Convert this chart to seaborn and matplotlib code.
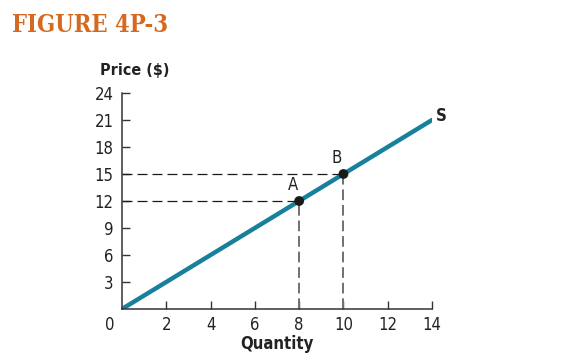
import matplotlib
matplotlib.use("Agg")
from matplotlib import pyplot as plt
import seaborn as sns
import numpy as np
import pandas as pd

# supply curve data
quantity = [0, 14]
price = [0, 21]
point_names = ["A", "B"]
point_q = [8, 10]
point_p = [12, 15]
x_ticks = [2, 4, 6, 8, 10, 12, 14]
y_ticks = [3, 6, 9, 12, 15, 18, 21, 24]

sns.set_style("ticks")
plt.rcParams['font.family'] = ['DejaVu Sans']
plt.rcParams['font.stretch'] = 'condensed'

teal = "#17819C"
fig = plt.figure(figsize=(5.72, 3.6), dpi=100)
ax = fig.add_axes([0.2133, 0.1417, 0.542, 0.6])

df = pd.DataFrame({"Quantity": quantity, "Price": price})
sns.lineplot(data=df, x="Quantity", y="Price", color=teal, linewidth=3.2, ax=ax)

# dashed guides
for q, p in zip(point_q, point_p):
    ax.plot([0, q], [p, p], color="#1a1a1a", linestyle=(0, (8, 4)), linewidth=0.9)
    ax.plot([q, q], [0, p], color="#707070", linestyle=(0, (5.5, 2.5)), linewidth=1.4)

pts = pd.DataFrame({"q": point_q, "p": point_p})
sns.scatterplot(data=pts, x="q", y="p", color="#1a1a1a", s=50, zorder=5, ax=ax, edgecolor="none")
for name, q, p in zip(point_names, point_q, point_p):
    ax.text(q - 0.3, p + 1.8, name, fontsize=12, ha="center", va="center", color="#222222")

ax.text(14.4, 21.4, "S", fontsize=12, fontweight="bold", ha="center", va="center", color="#222222")

ax.set_xlim(0, 14)
ax.set_ylim(0, 24)
ax.set_xticks(x_ticks)
ax.set_yticks(y_ticks)
ax.tick_params(direction="in", length=6, width=1, colors="#333333", labelsize=12, labelcolor="#222222")
ax.tick_params(axis="x", pad=5)
ax.tick_params(axis="y", pad=6)
ax.text(-0.55, -0.75, "0", fontsize=12, ha="center", va="top", color="#222222")
for s in ["top", "right"]:
    ax.spines[s].set_visible(False)
for s in ["left", "bottom"]:
    ax.spines[s].set_color("#333333")
    ax.spines[s].set_linewidth(1.1)

ax.set_xlabel("Quantity", fontsize=12, fontweight="bold", color="#222222", labelpad=1)
ax.set_ylabel("")
fig.text(135 / 572, 1 - 70 / 360, "Price ($)", fontsize=11.5, fontweight="bold", ha="center", va="center", color="#222222")

fig.text(12 / 572, 1 - 25 / 360, "FIGURE 4P-3", fontsize=17, fontweight="bold", family=["DejaVu Serif"],
         color="#D4691F", ha="left", va="center")

fig.savefig("out.png", dpi=100)
